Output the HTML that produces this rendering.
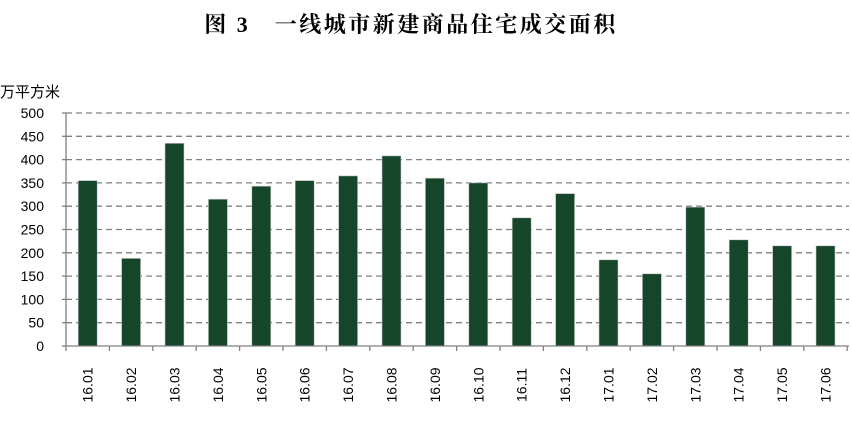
<!DOCTYPE html><html><head><meta charset="utf-8"><style>body{margin:0;background:#fff}</style></head><body>
<svg width="852" height="417" xmlns="http://www.w3.org/2000/svg" font-family="Liberation Sans, DejaVu Sans, sans-serif">
<text x="411" y="32" text-anchor="middle" font-size="22" letter-spacing="2.5" font-weight="bold" font-family="Liberation Serif, Noto Serif CJK SC, serif">图 3　一线城市新建商品住宅成交面积</text>
<text x="0" y="97" font-size="15" font-family="Liberation Sans, Noto Sans CJK SC, sans-serif">万平方米</text>
<g stroke="#808080" stroke-width="1.3" stroke-dasharray="6,4">
<line x1="66" x2="849" y1="322.7" y2="322.7"/><line x1="66" x2="849" y1="299.4" y2="299.4"/><line x1="66" x2="849" y1="276.1" y2="276.1"/><line x1="66" x2="849" y1="252.8" y2="252.8"/><line x1="66" x2="849" y1="229.5" y2="229.5"/><line x1="66" x2="849" y1="206.2" y2="206.2"/><line x1="66" x2="849" y1="182.9" y2="182.9"/><line x1="66" x2="849" y1="159.6" y2="159.6"/><line x1="66" x2="849" y1="136.3" y2="136.3"/><line x1="66" x2="849" y1="113" y2="113"/>
</g>
<g font-size="14" text-anchor="end">
<text x="44" y="351">0</text><text x="44" y="327.7">50</text><text x="44" y="304.4">100</text><text x="44" y="281.1">150</text><text x="44" y="257.8">200</text><text x="44" y="234.5">250</text><text x="44" y="211.2">300</text><text x="44" y="187.9">350</text><text x="44" y="164.6">400</text><text x="44" y="141.3">450</text><text x="44" y="118">500</text>
</g>
<g stroke="#808080" stroke-width="1.3">
<line x1="62" x2="66" y1="346" y2="346"/><line x1="62" x2="66" y1="322.7" y2="322.7"/><line x1="62" x2="66" y1="299.4" y2="299.4"/><line x1="62" x2="66" y1="276.1" y2="276.1"/><line x1="62" x2="66" y1="252.8" y2="252.8"/><line x1="62" x2="66" y1="229.5" y2="229.5"/><line x1="62" x2="66" y1="206.2" y2="206.2"/><line x1="62" x2="66" y1="182.9" y2="182.9"/><line x1="62" x2="66" y1="159.6" y2="159.6"/><line x1="62" x2="66" y1="136.3" y2="136.3"/><line x1="62" x2="66" y1="113" y2="113"/>
</g>
<g fill="#15462a" stroke="#c8c8c8" stroke-width="0.6">
<rect x="78.2" y="180.6" width="19" height="165.4"/>
<rect x="121.6" y="258.4" width="19" height="87.6"/>
<rect x="165" y="143.3" width="19" height="202.7"/>
<rect x="208.4" y="199.2" width="19" height="146.8"/>
<rect x="251.8" y="186.2" width="19" height="159.8"/>
<rect x="295.2" y="180.6" width="19" height="165.4"/>
<rect x="338.6" y="175.9" width="19" height="170.1"/>
<rect x="382" y="155.9" width="19" height="190.1"/>
<rect x="425.4" y="178.2" width="19" height="167.8"/>
<rect x="468.8" y="182.9" width="19" height="163.1"/>
<rect x="512.2" y="217.8" width="19" height="128.2"/>
<rect x="555.6" y="193.6" width="19" height="152.4"/>
<rect x="599" y="259.8" width="19" height="86.2"/>
<rect x="642.4" y="273.8" width="19" height="72.2"/>
<rect x="685.8" y="207.1" width="19" height="138.9"/>
<rect x="729.2" y="239.8" width="19" height="106.2"/>
<rect x="772.6" y="245.8" width="19" height="100.2"/>
<rect x="816" y="245.8" width="19" height="100.2"/>
</g>
<g stroke="#808080" stroke-width="1.3">
<line x1="66" x2="66" y1="113" y2="351"/>
<line x1="66" x2="849" y1="346" y2="346"/>
<line x1="109.4" x2="109.4" y1="346" y2="351"/><line x1="152.8" x2="152.8" y1="346" y2="351"/><line x1="196.2" x2="196.2" y1="346" y2="351"/><line x1="239.6" x2="239.6" y1="346" y2="351"/><line x1="283" x2="283" y1="346" y2="351"/><line x1="326.4" x2="326.4" y1="346" y2="351"/><line x1="369.8" x2="369.8" y1="346" y2="351"/><line x1="413.2" x2="413.2" y1="346" y2="351"/><line x1="456.6" x2="456.6" y1="346" y2="351"/><line x1="500" x2="500" y1="346" y2="351"/><line x1="543.4" x2="543.4" y1="346" y2="351"/><line x1="586.8" x2="586.8" y1="346" y2="351"/><line x1="630.2" x2="630.2" y1="346" y2="351"/><line x1="673.6" x2="673.6" y1="346" y2="351"/><line x1="717" x2="717" y1="346" y2="351"/><line x1="760.4" x2="760.4" y1="346" y2="351"/><line x1="803.8" x2="803.8" y1="346" y2="351"/><line x1="847.2" x2="847.2" y1="346" y2="351"/>
</g>
<g font-size="14" text-anchor="middle">
<text transform="translate(92.7,385) rotate(-90)">16.01</text>
<text transform="translate(136.1,385) rotate(-90)">16.02</text>
<text transform="translate(179.5,385) rotate(-90)">16.03</text>
<text transform="translate(222.9,385) rotate(-90)">16.04</text>
<text transform="translate(266.3,385) rotate(-90)">16.05</text>
<text transform="translate(309.7,385) rotate(-90)">16.06</text>
<text transform="translate(353.1,385) rotate(-90)">16.07</text>
<text transform="translate(396.5,385) rotate(-90)">16.08</text>
<text transform="translate(439.9,385) rotate(-90)">16.09</text>
<text transform="translate(483.3,385) rotate(-90)">16.10</text>
<text transform="translate(526.7,385) rotate(-90)">16.11</text>
<text transform="translate(570.1,385) rotate(-90)">16.12</text>
<text transform="translate(613.5,385) rotate(-90)">17.01</text>
<text transform="translate(656.9,385) rotate(-90)">17.02</text>
<text transform="translate(700.3,385) rotate(-90)">17.03</text>
<text transform="translate(743.7,385) rotate(-90)">17.04</text>
<text transform="translate(787.1,385) rotate(-90)">17.05</text>
<text transform="translate(830.5,385) rotate(-90)">17.06</text>
</g>
</svg></body></html>
